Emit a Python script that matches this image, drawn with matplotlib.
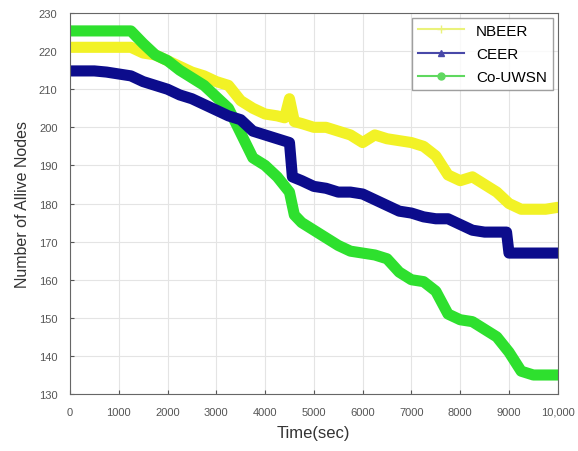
#Import libraries
import numpy as np
import matplotlib.pyplot as plt

plt.rcParams['font.family'] = ['Liberation Sans', 'DejaVu Sans']

#Time axis (sec) for each curve
t_nbeer = [0, 250, 500, 750, 1000, 1250, 1500, 1750, 2000, 2250, 2500, 2750, 3000,
           3250, 3500, 3750, 4000, 4250, 4400, 4500, 4600, 4750, 5000, 5250, 5500,
           5750, 6000, 6250, 6500, 6750, 7000, 7250, 7500, 7750, 8000, 8250, 8500,
           8750, 9000, 9250, 9500, 9750, 10000]
nbeer = [221, 221, 221, 221, 221, 221, 219.5, 219, 217.5, 216, 214.5, 213.5, 212,
         211, 207, 205, 203.5, 203, 202.5, 207.5, 201.5, 201, 200, 200, 199,
         198, 196, 198, 197, 196.5, 196, 195, 192.5, 187.5, 186, 187, 185,
         183, 180, 178.5, 178.5, 178.5, 179]

t_ceer = [0, 250, 500, 750, 1000, 1250, 1500, 1750, 2000, 2250, 2500, 2750, 3000,
          3250, 3500, 3750, 4000, 4250, 4500, 4560, 4750, 5000, 5250, 5500, 5750,
          6000, 6250, 6500, 6750, 7000, 7250, 7500, 7750, 8000, 8250, 8500, 8750,
          8950, 9000, 9250, 9500, 9750, 10000]
ceer = [214.8, 214.8, 214.8, 214.5, 214, 213.5, 212, 211, 210, 208.5, 207.5, 206, 204.5,
        203, 202, 199, 198, 197, 196, 187, 186, 184.5, 184, 183, 183,
        182.5, 181, 179.5, 178, 177.5, 176.5, 176, 176, 174.5, 173, 172.5, 172.5,
        172.5, 167, 167, 167, 167, 167]

t_couwsn = [0, 250, 500, 750, 1000, 1250, 1500, 1750, 2000, 2250, 2500, 2750, 3000,
            3250, 3500, 3750, 4000, 4250, 4500, 4600, 4750, 5000, 5250, 5500, 5750,
            6000, 6250, 6500, 6750, 7000, 7250, 7500, 7750, 8000, 8250, 8500, 8750,
            9000, 9250, 9500, 9750, 10000]
couwsn = [225.3, 225.3, 225.3, 225.3, 225.3, 225.3, 222, 219, 217.5, 215, 213, 211, 208,
          205, 198.5, 192, 190, 187, 183, 177, 175, 173, 171, 169, 167.5,
          167, 166.5, 165.5, 162, 160, 159.5, 157, 151, 149.5, 149, 147, 145,
          141, 136, 135, 135, 135]

xticks = [0, 1000, 2000, 3000, 4000, 5000, 6000, 7000, 8000, 9000, 10000]
xlabels = ['0', '1000', '2000', '3000', '4000', '5000', '6000', '7000', '8000', '9000', '10,000']

fig = plt.figure(figsize=(5.78, 4.52), dpi=100)
ax = fig.add_axes([0.121, 0.126, 0.844, 0.843])

#Thick bands (dense markers in the original look like this)
kw = dict(lw=8, solid_capstyle='round', solid_joinstyle='round')
ax.plot(t_nbeer, nbeer, color='#f2f226', **kw)
ax.plot(t_couwsn, couwsn, color='#2ee02e', **kw)
ax.plot(t_ceer, ceer, color='#0c0c8c', **kw)

#Legend entries: thin line with marker
ax.plot([], [], color='#eaf27a', lw=1.5, marker='+', ms=6, label='NBEER')
ax.plot([], [], color='#4848a8', lw=1.5, marker='^', ms=5, label='CEER')
ax.plot([], [], color='#5fd85f', lw=1.5, marker='o', ms=5, label='Co-UWSN')

ax.set_xlim(0, 10000)
ax.set_ylim(130, 230)
ax.set_xticks(xticks)
ax.set_xticklabels(xlabels)
ax.set_yticks(np.arange(130, 231, 10))
ax.tick_params(labelsize=8, colors='#555555', direction='in', length=3, pad=9)
ax.grid(True, color='#e4e4e4', lw=0.8)
for s in ax.spines.values():
    s.set_color('#666666')

ax.set_xlabel('Time(sec)', fontsize=12, color='#333333', labelpad=6)
ax.set_ylabel('Number of Allive Nodes', fontsize=11.5, color='#333333', labelpad=6)

leg = ax.legend(loc='upper right', fontsize=11, frameon=True, fancybox=False,
                edgecolor='#888888', handlelength=3, borderaxespad=0.3,
                labelspacing=0.6)

fig.savefig('out.png', dpi=100)
